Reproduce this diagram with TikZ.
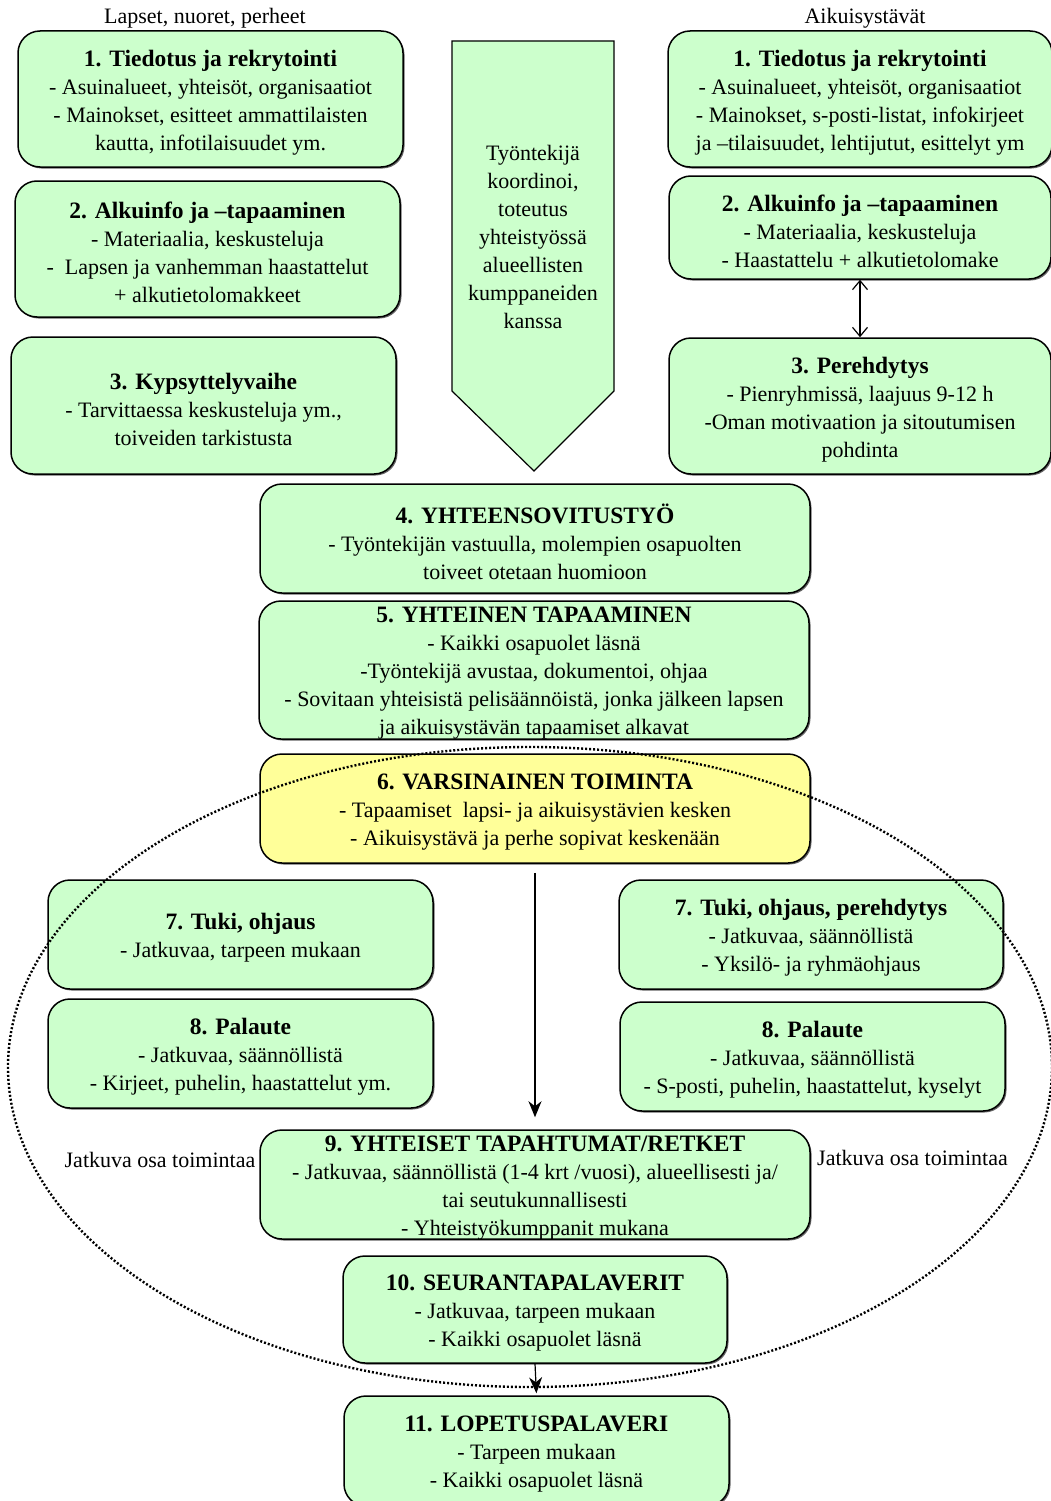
\documentclass[tikz,border=0pt]{standalone}
\usepackage{fontspec}
\setmainfont{Liberation Serif}
\usepackage{tikz}
\usetikzlibrary{arrows.meta,shadows}
\definecolor{boxgreen}{HTML}{CCFFCC}
\definecolor{boxyellow}{HTML}{FFFF99}
\tikzset{
	box/.style={draw, line width=1.5pt, rounded corners=22pt, fill=boxgreen, inner sep=0pt,
		drop shadow={shadow xshift=1.5pt, shadow yshift=-1.5pt, fill=black, opacity=0.6}},
	boxtext/.style={align=center, inner sep=0pt, font=\fontsize{22}{28}\selectfont},
	plain/.style={font=\fontsize{22}{28}\selectfont, inner sep=0pt},
	flow/.style={line width=1.2pt, -{Stealth[length=16pt,width=13pt,inset=5pt]}},
	twoway/.style={line width=1.2pt, {Straight Barb[length=9pt,width=15pt]}-{Straight Barb[length=9pt,width=15pt]}}
}
\newcommand{\steptitle}[1]{{\fontsize{23.5}{28}\selectfont\bfseries #1}}
\newcommand{\ystbox}[6][boxgreen]{
	\node[box, fill=#1, minimum width=#4pt, minimum height=#5pt] (#2) at (#3) {};
	\node[boxtext] (#2t) at ([yshift=-3.5pt]#2.center) {#6};
}

\begin{document}
\begin{tikzpicture}[x=1pt,y=-1pt]
		\useasboundingbox (0,0) rectangle (1051,1501);
		
		\node[plain] (hdl) at (205,18) {Lapset, nuoret, perheet};
		\node[plain] (hdr) at (865,18) {Aikuisystävät};
		
		\ystbox{l1}{210.5,99}{385}{136}{\steptitle{1. Tiedotus ja rekrytointi}\\- Asuinalueet, yhteisöt, organisaatiot\\- Mainokset, esitteet ammattilaisten\\kautta, infotilaisuudet ym.}
		\ystbox{l2}{207.5,249}{385}{136}{\steptitle{2. Alkuinfo ja –tapaaminen}\\- Materiaalia, keskusteluja\\-\ \ Lapsen ja vanhemman haastattelut\\+ alkutietolomakkeet}
		\ystbox{l3}{203.5,405.5}{385}{137}{\steptitle{3. Kypsyttelyvaihe}\\- Tarvittaessa keskusteluja ym.,\\toiveiden tarkistusta}
		
		\draw[line width=1.2pt, fill=boxgreen] (452,41) -- (614,41) -- (614,391) -- (534,471) -- (452,391) -- cycle;
		\node[boxtext] (koord) at (533,237) {Työntekijä\\koordinoi,\\toteutus\\yhteistyössä\\alueellisten\\kumppaneiden\\kanssa};
		
		\ystbox{r1}{860,99}{384}{136}{\steptitle{1. Tiedotus ja rekrytointi}\\- Asuinalueet, yhteisöt, organisaatiot\\- Mainokset, s-posti-listat, infokirjeet\\ja –tilaisuudet, lehtijutut, esittelyt ym}
		\ystbox{r2}{860,227.5}{382}{103}{\steptitle{2. Alkuinfo ja –tapaaminen}\\- Materiaalia, keskusteluja\\- Haastattelu + alkutietolomake}
		\ystbox{r3}{860,406}{382}{136}{\steptitle{3. Perehdytys}\\- Pienryhmissä, laajuus 9-12 h\\-Oman motivaation ja sitoutumisen\\pohdinta}
		
		\ystbox{s4}{535,538.5}{550}{109}{\steptitle{4. YHTEENSOVITUSTYÖ}\\- Työntekijän vastuulla, molempien osapuolten\\toiveet otetaan huomioon}
		\ystbox{s5}{534,670}{550}{138}{\steptitle{5. YHTEINEN TAPAAMINEN}\\- Kaikki osapuolet läsnä\\-Työntekijä avustaa, dokumentoi, ohjaa\\- Sovitaan yhteisistä pelisäännöistä, jonka jälkeen lapsen\\ja aikuisystävän tapaamiset alkavat}
		\ystbox[boxyellow]{s6}{535,808.5}{550}{109}{\steptitle{6. VARSINAINEN TOIMINTA}\\- Tapaamiset\ \ lapsi- ja aikuisystävien kesken\\- Aikuisystävä ja perhe sopivat keskenään}
		
		\ystbox{l7}{240.5,934.5}{385}{109}{\steptitle{7. Tuki, ohjaus}\\- Jatkuvaa, tarpeen mukaan}
		\ystbox{r7}{811,934.5}{384}{109}{\steptitle{7. Tuki, ohjaus, perehdytys}\\- Jatkuvaa, säännöllistä\\- Yksilö- ja ryhmäohjaus}
		\ystbox{l8}{240.5,1053.5}{385}{109}{\steptitle{8. Palaute}\\- Jatkuvaa, säännöllistä\\- Kirjeet, puhelin, haastattelut ym.}
		\ystbox{r8}{812.5,1056.5}{385}{109}{\steptitle{8. Palaute}\\- Jatkuvaa, säännöllistä\\- S-posti, puhelin, haastattelut, kyselyt}
		
		\ystbox{s9}{535,1184.5}{550}{109}{\steptitle{9. YHTEISET TAPAHTUMAT/RETKET}\\- Jatkuvaa, säännöllistä (1-4 krt /vuosi), alueellisesti ja/\\tai seutukunnallisesti\\- Yhteistyökumppanit mukana}
		\node[plain] (jl) at (160,1160) {Jatkuva osa toimintaa};
		\node[plain] (jr) at (912.5,1158) {Jatkuva osa toimintaa};
		
		\ystbox{s10}{535,1309.5}{384}{107}{\steptitle{10. SEURANTAPALAVERIT}\\- Jatkuvaa, tarpeen mukaan\\- Kaikki osapuolet läsnä}
		\ystbox{s11}{536.5,1451}{385}{110}{\steptitle{11. LOPETUSPALAVERI}\\- Tarpeen mukaan\\- Kaikki osapuolet läsnä}
		
		\draw[twoway] (r2.south) -- (r3.north);
		\draw[flow, shorten <=9pt, shorten >=12pt] (s6.south) -- (s9.north);
		\draw[flow, shorten >=2pt] (s10.south) -- (s11.north);
		
		\draw[line width=2.4pt, dash pattern=on 2pt off 2pt] (530,1067) ellipse [x radius=522, y radius=320];
		
	\end{tikzpicture}
\end{document}
